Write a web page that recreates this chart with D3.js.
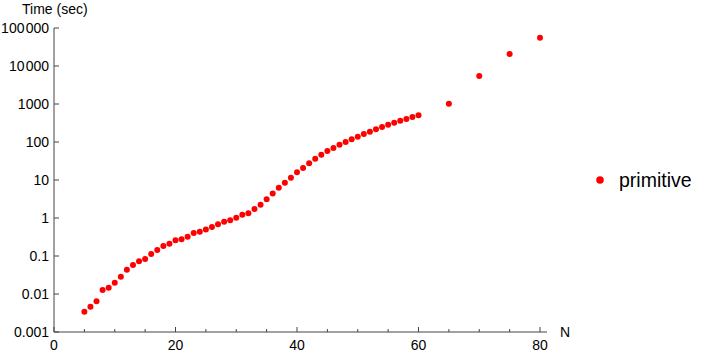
<!DOCTYPE html>
<html>
<head>
<meta charset="utf-8">
<script src="https://cdn.jsdelivr.net/npm/d3@7"></script>
<style>
  html, body { margin: 0; padding: 0; background: #fff; }
  svg { display: block; font-family: "Liberation Sans", Arial, sans-serif; }
</style>
</head>
<body>
<svg id="chart" width="706" height="355"></svg>
<script>
// ---- data ----
const nValues = [5,6,7,8,9,10,11,12,13,14,15,16,17,18,19,20,21,22,23,24,25,26,27,28,29,30,
  31,32,33,34,35,36,37,38,39,40,41,42,43,44,45,46,47,48,49,50,51,52,53,54,55,56,57,58,59,60,
  65,70,75,80];
const timeValues = [0.0034,0.0046,0.0064,0.0127,0.0147,0.0199,0.0286,0.0436,0.058,0.0725,
  0.083,0.113,0.144,0.183,0.211,0.258,0.275,0.323,0.403,0.436,
  0.50,0.58,0.68,0.80,0.87,1.02,1.22,1.33,1.72,2.24,
  3.1,4.4,6.3,8.5,11.5,15.9,20.7,27.8,36.3,46,
  58,69.5,85,100,118,137,163,187,215,247,
  285,322,364,403,455,502,
  1018,5460,20700,55600];
const xTicks = [0,20,40,60,80];
const xMinorTicks = [5,10,15,25,30,35,45,50,55,65,70,75];
const yTicks = [0.001,0.01,0.1,1,10,100,1000,10000,100000];
const yTickLabels = ["0.001","0.01","0.1","1","10","100","1000","10\u200A000","100\u200A000"];
const seriesName = "primitive";
const xTitle = "N";
const yTitle = "Time (sec)";

// ---- layout ----
const svg = d3.select("#chart");
const x = d3.scaleLinear().domain([0, 80]).range([54, 540]);
const y = d3.scaleLog().domain([0.001, 100000]).range([332, 28]);
const axisColor = "#444";

// x axis
const gx = svg.append("g").attr("transform", `translate(0,${y(0.001)})`);
gx.append("line").attr("x1", x(0)).attr("x2", x(80) + 7)
  .attr("stroke", axisColor).attr("stroke-width", 1);
gx.call(g => g.selectAll(".maj").data(xTicks).enter().append("line")
  .attr("x1", d => x(d)).attr("x2", d => x(d)).attr("y1", 0).attr("y2", -5)
  .attr("stroke", axisColor));
gx.call(g => g.selectAll(".min").data(xMinorTicks).enter().append("line")
  .attr("x1", d => x(d)).attr("x2", d => x(d)).attr("y1", 0).attr("y2", -3)
  .attr("stroke", axisColor));
gx.selectAll("text.tl").data(xTicks).enter().append("text")
  .attr("x", d => x(d)).attr("y", 18).attr("text-anchor", "middle")
  .attr("font-size", 14).attr("fill", "#000").text(d => d);
gx.append("text").attr("x", 560).attr("y", 5).attr("font-size", 14)
  .attr("fill", "#000").text(xTitle);

// y axis
const gy = svg.append("g").attr("transform", `translate(${x(0)},0)`);
gy.append("line").attr("y1", y(0.001)).attr("y2", y(100000))
  .attr("stroke", axisColor).attr("stroke-width", 1);
gy.selectAll("line.t").data(yTicks).enter().append("line")
  .attr("x1", 0).attr("x2", 5).attr("y1", d => y(d)).attr("y2", d => y(d))
  .attr("stroke", axisColor);
gy.selectAll("text.tl").data(yTicks).enter().append("text")
  .attr("x", -5).attr("y", d => y(d) + 5).attr("text-anchor", "end")
  .attr("font-size", 14).attr("fill", "#000").text((d, i) => yTickLabels[i]);
svg.append("text").attr("x", 22).attr("y", 14).attr("font-size", 14)
  .attr("fill", "#000").text(yTitle);

// points
const data = nValues.map((n, i) => ({ n, t: timeValues[i] }));
svg.append("g").selectAll("circle").data(data).enter().append("circle")
  .attr("cx", d => x(d.n)).attr("cy", d => y(d.t)).attr("r", 3)
  .attr("fill", "#ff0000");

// legend
const lg = svg.append("g");
lg.append("circle").attr("cx", 600).attr("cy", 180).attr("r", 3.8).attr("fill", "#ff0000");
lg.append("text").attr("x", 619).attr("y", 187).attr("font-size", 19.5)
  .attr("fill", "#000").text(seriesName);
</script>
</body>
</html>
